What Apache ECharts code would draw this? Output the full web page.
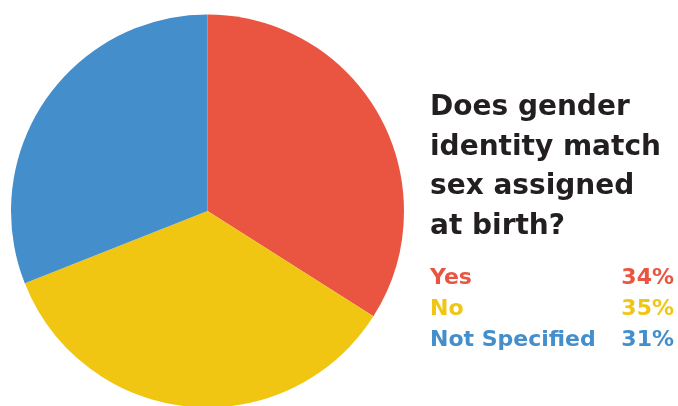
<!DOCTYPE html>
<html>
<head>
<meta charset="utf-8">
<script src="https://cdn.jsdelivr.net/npm/echarts@6/dist/echarts.min.js"></script>
<style>html,body{margin:0;padding:0;background:#fff;}#c{width:678px;height:406px;}</style>
</head>
<body>
<div id="c"></div>
<script>
const categories = ['Yes', 'No', 'Not Specified'];
const values = [34, 35, 31];
const colors = ['#E95541', '#F0C613', '#438ECB'];
const titleText = 'Does gender\nidentity match\nsex assigned\nat birth?';

const chart = echarts.init(document.getElementById('c'), null, {renderer: 'canvas'});
const pieData = categories.map((n, i) => ({name: n, value: values[i], itemStyle: {color: colors[i]}}));
chart.setOption({
  animation: false,
  title: {
    text: titleText,
    left: 430,
    top: 88,
    padding: 0,
    textStyle: {fontFamily: 'DejaVu Sans', fontWeight: 'bold', fontSize: 28, lineHeight: 39.5, color: '#231F20'}
  },
  legend: {
    orient: 'vertical',
    left: 420,
    top: 261,
    icon: 'none',
    itemWidth: 0,
    itemHeight: 14,
    itemGap: 7,
    selectedMode: false,
    data: categories.map((n, i) => ({name: n, textStyle: {color: colors[i]}})),
    formatter: function (name) {
      const i = categories.indexOf(name);
      return '{n|' + name + '}{p|' + values[i] + '%}';
    },
    textStyle: {
      fontFamily: 'DejaVu Sans', fontWeight: 'bold', fontSize: 22, lineHeight: 24,
      rich: {
        n: {width: 191, fontFamily: 'DejaVu Sans', fontWeight: 'bold', fontSize: 22, lineHeight: 24},
        p: {width: 53, align: 'right', fontFamily: 'DejaVu Sans', fontWeight: 'bold', fontSize: 22, lineHeight: 24}
      }
    }
  },
  series: [{
    type: 'pie',
    center: [207.5, 211],
    radius: 196.5,
    startAngle: 90,
    clockwise: true,
    label: {show: false},
    labelLine: {show: false},
    silent: true,
    itemStyle: {borderWidth: 0},
    data: pieData
  }]
});
</script>
</body>
</html>
